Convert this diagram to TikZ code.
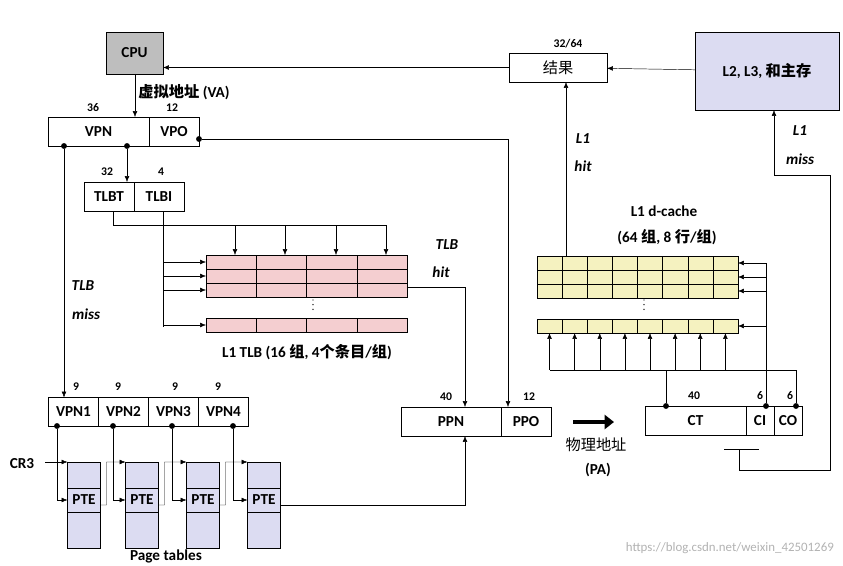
\documentclass[tikz,border=0pt]{standalone}
\usepackage{fontspec}
\setmainfont{Carlito}
\newfontfamily\cjk{Noto Sans CJK SC}
\usetikzlibrary{arrows.meta,positioning}

\definecolor{cpugray}{RGB}{190,190,190}
\definecolor{lavender}{RGB}{220,220,242}
\definecolor{tlbpink}{RGB}{244,206,208}
\definecolor{cacheyel}{RGB}{245,242,192}

\begin{document}
\begin{tikzpicture}[x=0.03cm, y=-0.03cm,
    box/.style={rectangle, draw, inner sep=0pt, outer sep=0pt, minimum height=0.87cm, font=\fontsize{13}{15}\selectfont\bfseries},
    bits/.style={font=\fontsize{10}{12}\selectfont\bfseries, inner sep=1pt},
    lbl/.style={font=\fontsize{13}{15}\selectfont\bfseries, inner sep=1pt},
    ital/.style={font=\fontsize{13}{15}\selectfont\bfseries\itshape, inner sep=1pt},
    tbl/.style={rectangle, draw, fill=lavender, inner sep=0pt, outer sep=0pt, minimum width=0.99cm},
    arrow/.style={-{Latex[length=5pt,width=4pt]}, thin},
    dot/.style={circle, fill, inner sep=0pt, minimum size=5pt}
]
    \useasboundingbox (0,0) rectangle (843,566);

    % CPU and virtual address
    \node[box, fill=cpugray, minimum width=1.71cm, minimum height=1.26cm] (cpu) at (134.5,53) {CPU};
    \node[lbl, anchor=west] (va) at (137,92) {{\cjk 虚拟地址} (VA)};
    \node[box, minimum width=3.03cm] (vpn) at (98.5,131.5) {VPN};
    \node[box, minimum width=1.5cm, right=0pt of vpn] (vpo) {VPO};
    \node[bits] at (93,108) {36};
    \node[bits] at (172,108) {12};
    \draw[arrow] (cpu.south -| 135,0) -- (vpn.north -| 135,0);

    % TLB index
    \node[box, minimum width=1.5cm] (tlbt) at (109,196.5) {TLBT};
    \node[box, minimum width=1.5cm, right=0pt of tlbt] (tlbi) {TLBI};
    \node[bits] at (107,172) {32};
    \node[bits] at (161,172) {4};
    \node[dot] (d1) at (64,146) {};
    \node[dot] (d2) at (127,146) {};
    \node[dot] (d3) at (199,139) {};
    \draw[arrow] (d2) -- (d2 |- tlbt.north);

    % L1 TLB
    \foreach \y in {255,269,283,318}
        \foreach \c in {0,...,3}
            \draw[fill=tlbpink] (206+50.25*\c,\y) rectangle +(50.25,14);
    \draw[very thick, line cap=round, dash pattern=on 0pt off 4pt] (313,300) -- (313,314);
    \draw (113,211) -- (113,225) -- (386,225);
    \foreach \x in {235,285,336,386}
        \draw[arrow] (\x,225) -- (\x,255);
    \draw (163,211) -- (163,327);
    \foreach \y in {262,276,290,325}
        \draw[arrow] (163,\y) -- (206,\y);
    \node[lbl] at (307,352) {L1 TLB (16 {\cjk 组}, 4{\cjk 个条目}/{\cjk 组})};
    \node[ital] at (447,245) {TLB};
    \node[ital] at (441,272) {hit};

    % TLB miss and page tables
    \node[ital] at (83,286) {TLB};
    \node[ital] at (86,314) {miss};
    \node[box, minimum width=1.5cm] (vpn1) at (73.5,412) {VPN1};
    \node[box, minimum width=1.5cm, right=0pt of vpn1] (vpn2) {VPN2};
    \node[box, minimum width=1.5cm, right=0pt of vpn2] (vpn3) {VPN3};
    \node[box, minimum width=1.5cm, right=0pt of vpn3] (vpn4) {VPN4};
    \draw[arrow] (d1) -- (d1 |- vpn1.north);
    \foreach \x in {76,118,175,218}
        \node[bits] at (\x,387) {9};
    \foreach \i/\x/\dx in {1/84/57,2/142/113,3/203/172,4/264/233} {
        \node[tbl, minimum height=0.78cm] (top\i) at (\x,475) {};
        \node[tbl, minimum height=0.72cm, font=\fontsize{13}{15}\selectfont\bfseries, below=0pt of top\i] (pte\i) {PTE};
        \node[tbl, minimum height=1.08cm, below=0pt of pte\i] (bot\i) {};
        \node[dot] (v\i) at (\dx,426) {};
        \draw[arrow] (v\i) |- (pte\i.west);
    }
    \node[lbl] (cr3) at (22,464) {CR3};
    \draw[arrow] (45,462) -- (top1.west |- 0,462);
    \foreach \a/\b in {1/2,2/3,3/4}
        \draw[arrow] ([yshift=-0.15cm]pte\a.east) -| ++(6,-43) -- (top\b.west |- 0,462);
    \node[lbl] at (166,556) {Page tables};

    % physical address
    \node[box, minimum width=3cm] (ppn) at (451,421.5) {PPN};
    \node[box, minimum width=1.5cm, right=0pt of ppn] (ppo) {PPO};
    \node[bits] at (446,397) {40};
    \node[bits] at (529,397) {12};
    \draw[arrow] (407,287) -| (465,0 |- ppn.north);
    \draw[arrow] ([yshift=-0.15cm]pte4.east) -| (465,0 |- ppn.south);
    \draw[arrow] (d3) -| (ppo.north -| 508,0);
    \draw[-{Triangle[length=8pt,width=12pt]}, line width=4pt] (573,422) -- (614,422);
    \node[font=\fontsize{13}{15}\selectfont\cjk] at (596,445) {物理地址};
    \node[lbl] at (598,470) {(PA)};

    % cache address
    \node[box, minimum width=3.03cm] (ct) at (695.5,420.5) {CT};
    \node[box, minimum width=0.84cm, right=0pt of ct] (ci) {CI};
    \node[box, minimum width=0.84cm, right=0pt of ci] (co) {CO};
    \node[bits] at (694,396) {40};
    \node[bits] at (760,396) {6};
    \node[bits] at (790,396) {6};
    \node[dot] (dct) at (666,406) {};
    \node[dot] (dci) at (766,406) {};
    \node[dot] (dco) at (796,406) {};

    % L1 d-cache
    \foreach \y in {256,270,284,319}
        \foreach \c in {0,...,7}
            \draw[fill=cacheyel] (537+25.125*\c,\y) rectangle +(25.125,14);
    \draw[very thick, line cap=round, dash pattern=on 0pt off 4pt] (644,300) -- (644,314);
    \draw (dct) -- (666,370);
    \draw (dco) -- (796,370) -- (550,370);
    \foreach \c in {0,...,7}
        \draw[arrow] (549.5+25.125*\c,370) -- (549.5+25.125*\c,333);
    \draw (dci) -- (766,263);
    \foreach \y in {263,277,291,326}
        \draw[arrow] (766,\y) -- (738,\y);
    \node[lbl] at (664,211) {L1 d-cache};
    \node[lbl] at (667,237) {(64 {\cjk 组}, 8 {\cjk 行}/{\cjk 组})};

    % results and lower levels
    \node[box, minimum width=2.94cm, font=\fontsize{13}{15}\selectfont\cjk] (res) at (558,67.5) {结果};
    \node[bits] at (568,44) {32/64};
    \node[box, fill=lavender, minimum width=4.32cm, minimum height=2.34cm] (mem) at (767,71) {L2, L3, {\cjk 和主存}};
    \draw[arrow] (mem) -- (res);
    \draw[arrow] (res.west) -- (cpu.east |- res.west);
    \draw[arrow] (566,256) -- (res.south -| 566,0);
    \node[ital] at (583,139) {L1};
    \node[ital] at (583,166) {hit};
    \draw (724,449) -- (759,449);
    \draw[arrow] (739,449) -- (739,470) -- (830,470) -- (830,175) -- (774,175) -- (mem.south -| 774,0);
    \node[ital] at (800,131) {L1};
    \node[ital] at (800,159) {miss};

    % watermark
    \node[font=\fontsize{11}{13}\selectfont, text=gray!60, anchor=east] at (838,548) {https://blog.csdn.net/weixin\_42501269};
\end{tikzpicture}
\end{document}
